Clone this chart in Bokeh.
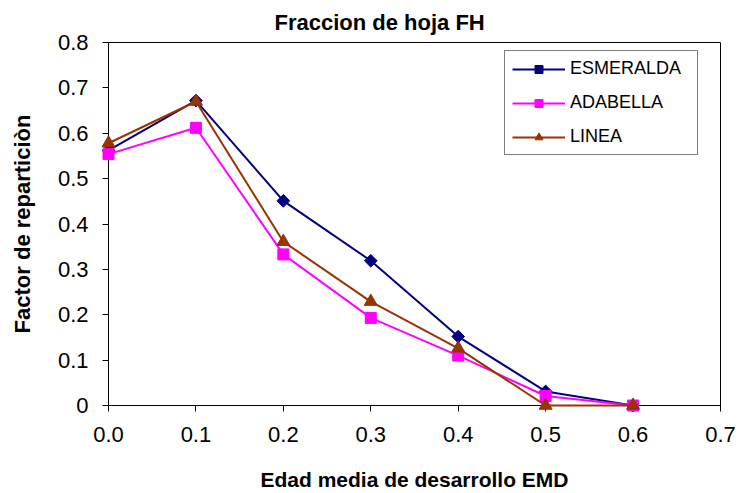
import math

from bokeh.plotting import figure
from bokeh.models import Legend, LegendItem, FixedTicker, Range1d, Title
from bokeh.embed import file_html
from bokeh.resources import INLINE

# Edad media de desarrollo (EMD) and partition factor per variety
emd = [0.0, 0.1, 0.2, 0.3, 0.4, 0.5, 0.6]
esmeralda = [0.562, 0.672, 0.451, 0.319, 0.152, 0.031, 0.0]
adabella = [0.554, 0.612, 0.333, 0.193, 0.110, 0.021, 0.0]
linea = [0.578, 0.670, 0.361, 0.229, 0.126, 0.0, 0.0]

x_ticks = [0.0, 0.1, 0.2, 0.3, 0.4, 0.5, 0.6, 0.7]
x_tick_labels = ["0.0", "0.1", "0.2", "0.3", "0.4", "0.5", "0.6", "0.7"]
y_ticks = [0.0, 0.1, 0.2, 0.3, 0.4, 0.5, 0.6, 0.7, 0.8]
y_tick_labels = ["0", "0.1", "0.2", "0.3", "0.4", "0.5", "0.6", "0.7", "0.8"]

FONT = "Liberation Sans"

p = figure(
    width=742, height=493,
    x_range=Range1d(0, 0.7), y_range=Range1d(0, 0.8),
    output_backend="svg", toolbar_location=None,
    min_border_left=108, min_border_right=22,
    min_border_top=42, min_border_bottom=88,
    background_fill_color="white", border_fill_color="white",
)
p.title = None
title = Title(text="Fraccion de hoja FH", align="left", offset=166,
              text_font=FONT, text_font_size="22px", text_font_style="bold",
              text_color="black", standoff=15)
p.add_layout(title, "above")

p.outline_line_color = "black"
p.outline_line_width = 1
p.xgrid.visible = False
p.ygrid.visible = False

for ax in (p.xaxis[0], p.yaxis[0]):
    ax.axis_line_color = "black"
    ax.axis_line_width = 1
    ax.major_tick_line_color = "black"
    ax.major_tick_in = 0
    ax.major_tick_out = 6
    ax.minor_tick_line_color = None
    ax.major_label_text_font = FONT
    ax.major_label_text_font_size = "22px"
    ax.major_label_text_color = "black"
    ax.axis_label_text_font = FONT
    ax.axis_label_text_font_style = "bold"
    ax.axis_label_text_color = "black"

p.xaxis[0].ticker = FixedTicker(ticks=x_ticks)
p.xaxis[0].major_label_overrides = dict(zip(x_ticks, x_tick_labels))
p.xaxis[0].axis_label = "Edad media de desarrollo EMD"
p.xaxis[0].axis_label_text_font_size = "21px"
p.xaxis[0].major_label_standoff = 15
p.xaxis[0].axis_label_standoff = 23

p.yaxis[0].ticker = FixedTicker(ticks=y_ticks)
p.yaxis[0].major_label_overrides = dict(zip(y_ticks, y_tick_labels))
p.yaxis[0].axis_label = "Factor de reparticiòn"
p.yaxis[0].axis_label_text_font_size = "22px"
p.yaxis[0].major_label_standoff = 14
p.yaxis[0].axis_label_standoff = 20

# (name, values, colour, marker, size, angle)
series = [
    ("ESMERALDA", esmeralda, "#000080", "square", 9, math.pi / 4),
    ("ADABELLA", adabella, "#FF00FF", "square", 11, 0.0),
    ("LINEA", linea, "#993300", "triangle", 13, 0.0),
]

items = []
for name, vals, color, marker, size, angle in series:
    # drawn at annotation level so markers on the axes are not cut by the frame
    ln = p.line(emd, vals, line_color=color, line_width=2, level="annotation")
    sc = p.scatter(emd, vals, marker=marker, size=size, angle=angle,
                   fill_color=color, line_color=color, level="annotation")
    items.append(LegendItem(label=name, renderers=[ln, sc]))

legend = Legend(
    items=items, location=(396, 250),
    label_text_font=FONT, label_text_font_size="18px", label_text_color="black",
    glyph_width=53, glyph_height=20, label_height=20, label_width=120,
    spacing=13, padding=7, label_standoff=5, margin=0,
    border_line_color="black", border_line_width=1,
    background_fill_color="white", background_fill_alpha=1.0,
)
p.add_layout(legend, "center")

open("out.html", "w").write(file_html(p, INLINE))
